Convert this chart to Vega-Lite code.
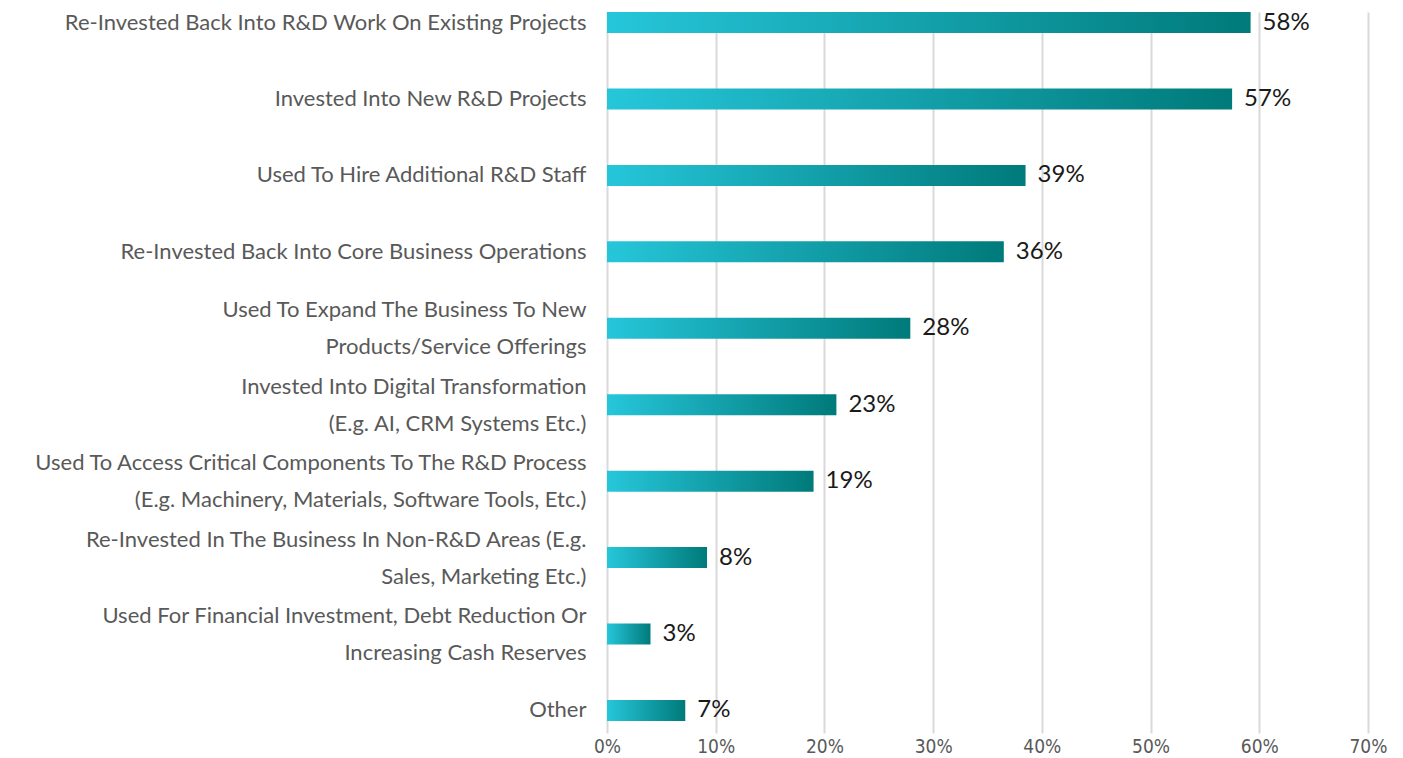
{
  "$schema": "https://vega.github.io/schema/vega-lite/v6.json",
  "width": 761,
  "height": 721,
  "autosize": {"type": "none"},
  "padding": {"left": 607, "top": 12, "right": 35, "bottom": 25},
  "background": "white",
  "config": {"view": {"stroke": null}},
  "data": {
    "values": [
      {"category": "Re-Invested Back Into R&D Work On Existing Projects", "value": 0.592, "label": "58%"},
      {"category": "Invested Into New R&D Projects", "value": 0.575, "label": "57%"},
      {"category": "Used To Hire Additional R&D Staff", "value": 0.385, "label": "39%"},
      {"category": "Re-Invested Back Into Core Business Operations", "value": 0.365, "label": "36%"},
      {"category": "Used To Expand The Business To New|Products/Service Offerings", "value": 0.279, "label": "28%"},
      {"category": "Invested Into Digital Transformation|(E.g. AI, CRM Systems Etc.)", "value": 0.211, "label": "23%"},
      {"category": "Used To Access Critical Components To The R&D Process|(E.g. Machinery, Materials, Software Tools, Etc.)", "value": 0.19, "label": "19%"},
      {"category": "Re-Invested In The Business In Non-R&D Areas (E.g.|Sales, Marketing Etc.)", "value": 0.092, "label": "8%"},
      {"category": "Used For Financial Investment, Debt Reduction Or|Increasing Cash Reserves", "value": 0.04, "label": "3%"},
      {"category": "Other", "value": 0.072, "label": "7%"}
    ]
  },
  "encoding": {
    "y": {
      "field": "category",
      "type": "nominal",
      "sort": null,
      "scale": {"paddingInner": 0.725, "paddingOuter": 0.0785, "align": 0},
      "axis": {
        "title": null,
        "domain": false,
        "ticks": false,
        "labelExpr": "split(datum.label, '|')",
        "labelFont": "Lato",
        "labelFontSize": 22,
        "labelColor": "#595959",
        "labelPadding": 21,
        "labelLineHeight": 37,
        "labelLimit": 700,
        "labelOffset": {"condition": {"test": "indexof(datum.value, '|') >= 0", "value": -18}, "value": 0}
      }
    },
    "x": {
      "field": "value",
      "type": "quantitative",
      "scale": {"domain": [0, 0.7], "nice": false},
      "axis": {
        "title": null,
        "format": ".0%",
        "values": [0, 0.1, 0.2, 0.3, 0.4, 0.5, 0.6, 0.7],
        "domain": false,
        "ticks": false,
        "grid": true,
        "gridColor": "#D9D9D9",
        "gridWidth": 2,
        "labelFlush": false,
        "labelFont": "DejaVu Sans Condensed",
        "labelFontSize": 19,
        "labelColor": "#595959",
        "labelPadding": 4
      }
    }
  },
  "layer": [
    {
      "mark": {
        "type": "bar",
        "color": {
          "gradient": "linear",
          "x1": 0, "y1": 0, "x2": 1, "y2": 0,
          "stops": [
            {"offset": 0, "color": "#26C6DA"},
            {"offset": 1, "color": "#007A7A"}
          ]
        }
      }
    },
    {
      "mark": {
        "type": "text",
        "align": "left",
        "baseline": "middle",
        "dx": 12,
        "font": "Lato",
        "fontSize": 24,
        "color": "#1A1A1A"
      },
      "encoding": {"text": {"field": "label"}}
    }
  ]
}
